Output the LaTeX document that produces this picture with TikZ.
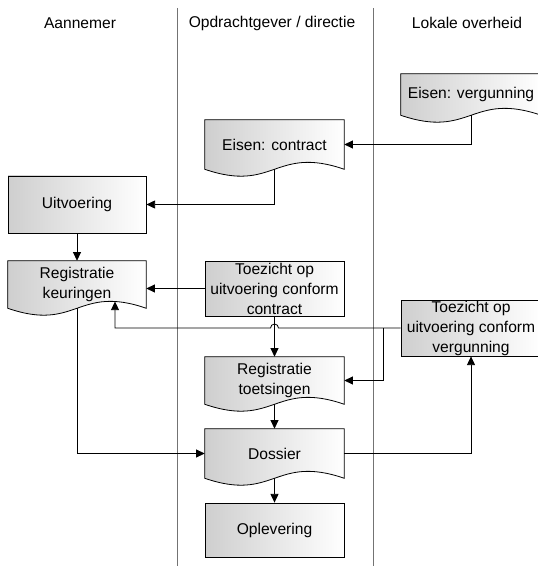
\documentclass[tikz,border=0pt]{standalone}
\usepackage{fontspec}
\setmainfont{Liberation Sans}
\usetikzlibrary{arrows.meta,calc,backgrounds}

\newcommand{\lbl}{\fontsize{11.7}{15}\selectfont}
% outline of a document shape round a named node
\newcommand{\docoutline}[1]{%
  \begin{pgfonlayer}{background}
    \path[docshade] (#1.south west) -- (#1.north west) -- (#1.north east) -- (#1.south east)
      .. controls ([yshift=18pt]#1.south) and ([yshift=-18pt]#1.south) .. (#1.south west) -- cycle;
  \end{pgfonlayer}}

\tikzset{
  lane/.style={draw=black!55, line width=0.6pt},
  lanehead/.style={font=\lbl},
  procbox/.style={draw, line width=0.6pt, left color=black!19, right color=white, align=center, inner sep=0pt, font=\lbl},
  docbox/.style={align=center, inner sep=0pt, font=\lbl},
  docshade/.style={draw, line width=0.6pt, left color=black!19, right color=white},
  conn/.style={line width=0.6pt, -{Triangle[length=6.5pt,width=6pt]}}
}

\begin{document}
\begin{tikzpicture}[x=0.75pt, y=-0.75pt]
                \useasboundingbox (0,0) rectangle (537,566);

                % Lanes
                \draw[lane] (177.5,8) -- (177.5,566);
                \draw[lane] (373.5,8) -- (373.5,566);
                \node[lanehead] (hA) at (80,23) {Aannemer};
                \node[lanehead] (hO) at (272,23) {Opdrachtgever / directie};
                \node[lanehead] (hL) at (467,23) {Lokale overheid};

                % Eisen
                \node[docbox, minimum width=105pt, minimum height=30.75pt] (ev) at (471,94.5) {Eisen: vergunning};
                \docoutline{ev}
                \node[docbox, minimum width=104.25pt, minimum height=36.75pt] (ec) at (274.5,144.5) {Eisen: contract};
                \docoutline{ec}

                % Uitvoering and keuringen
                \node[procbox, minimum width=103.5pt, minimum height=42.75pt] (uit) at (77,204.5) {Uitvoering};
                \node[docbox, minimum width=103.5pt, minimum height=35.25pt] (rk) at (77,284.5) {Registratie\\keuringen};
                \docoutline{rk}

                % Toezicht
                \node[procbox, minimum width=104.25pt, minimum height=41.25pt] (tc) at (274.5,288.5) {Toezicht op\\uitvoering conform\\contract};
                \node[procbox, minimum width=105pt, minimum height=42pt] (tv) at (471,328) {Toezicht op\\uitvoering conform\\vergunning};

                % Toetsingen, dossier, oplevering
                \node[docbox, minimum width=104.25pt, minimum height=35.25pt] (rt) at (274.5,380.5) {Registratie\\toetsingen};
                \docoutline{rt}
                \node[docbox, minimum width=104.25pt, minimum height=36.75pt] (dos) at (274.5,453.5) {Dossier};
                \docoutline{dos}
                \node[procbox, minimum width=104.25pt, minimum height=40.5pt] (opl) at (274.5,530) {Oplevering};

                % Connectors
                \coordinate (jn) at ([xshift=-12.75pt]tv.west);
                \coordinate (rkw) at ([xshift=28.5pt,yshift=5.1pt]rk.south);
                \draw[conn] (ev.south) |- (ec.east);
                \draw[conn] (ec.south) |- (uit.east);
                \draw[conn] (uit.south) -- (rk.north);
                \draw[conn] (tc.west) -- (tc.west -| rk.east);
                \draw[conn] (tc.south) -- (rt.north);
                \draw[conn] (tv.west) -- ($(tv.west -| tc.south)+(3pt,0)$) arc[start angle=0, end angle=180, radius=3pt] -| (rkw);
                \draw[conn] (jn) |- (rt.east);
                \draw[conn] (rt.south) -- (dos.north);
                \draw[conn] (rk.south) |- (dos.west);
                \draw[conn] (dos.east) -| (tv.south);
                \draw[conn] (dos.south) -- (opl.north);
\end{tikzpicture}
\end{document}
